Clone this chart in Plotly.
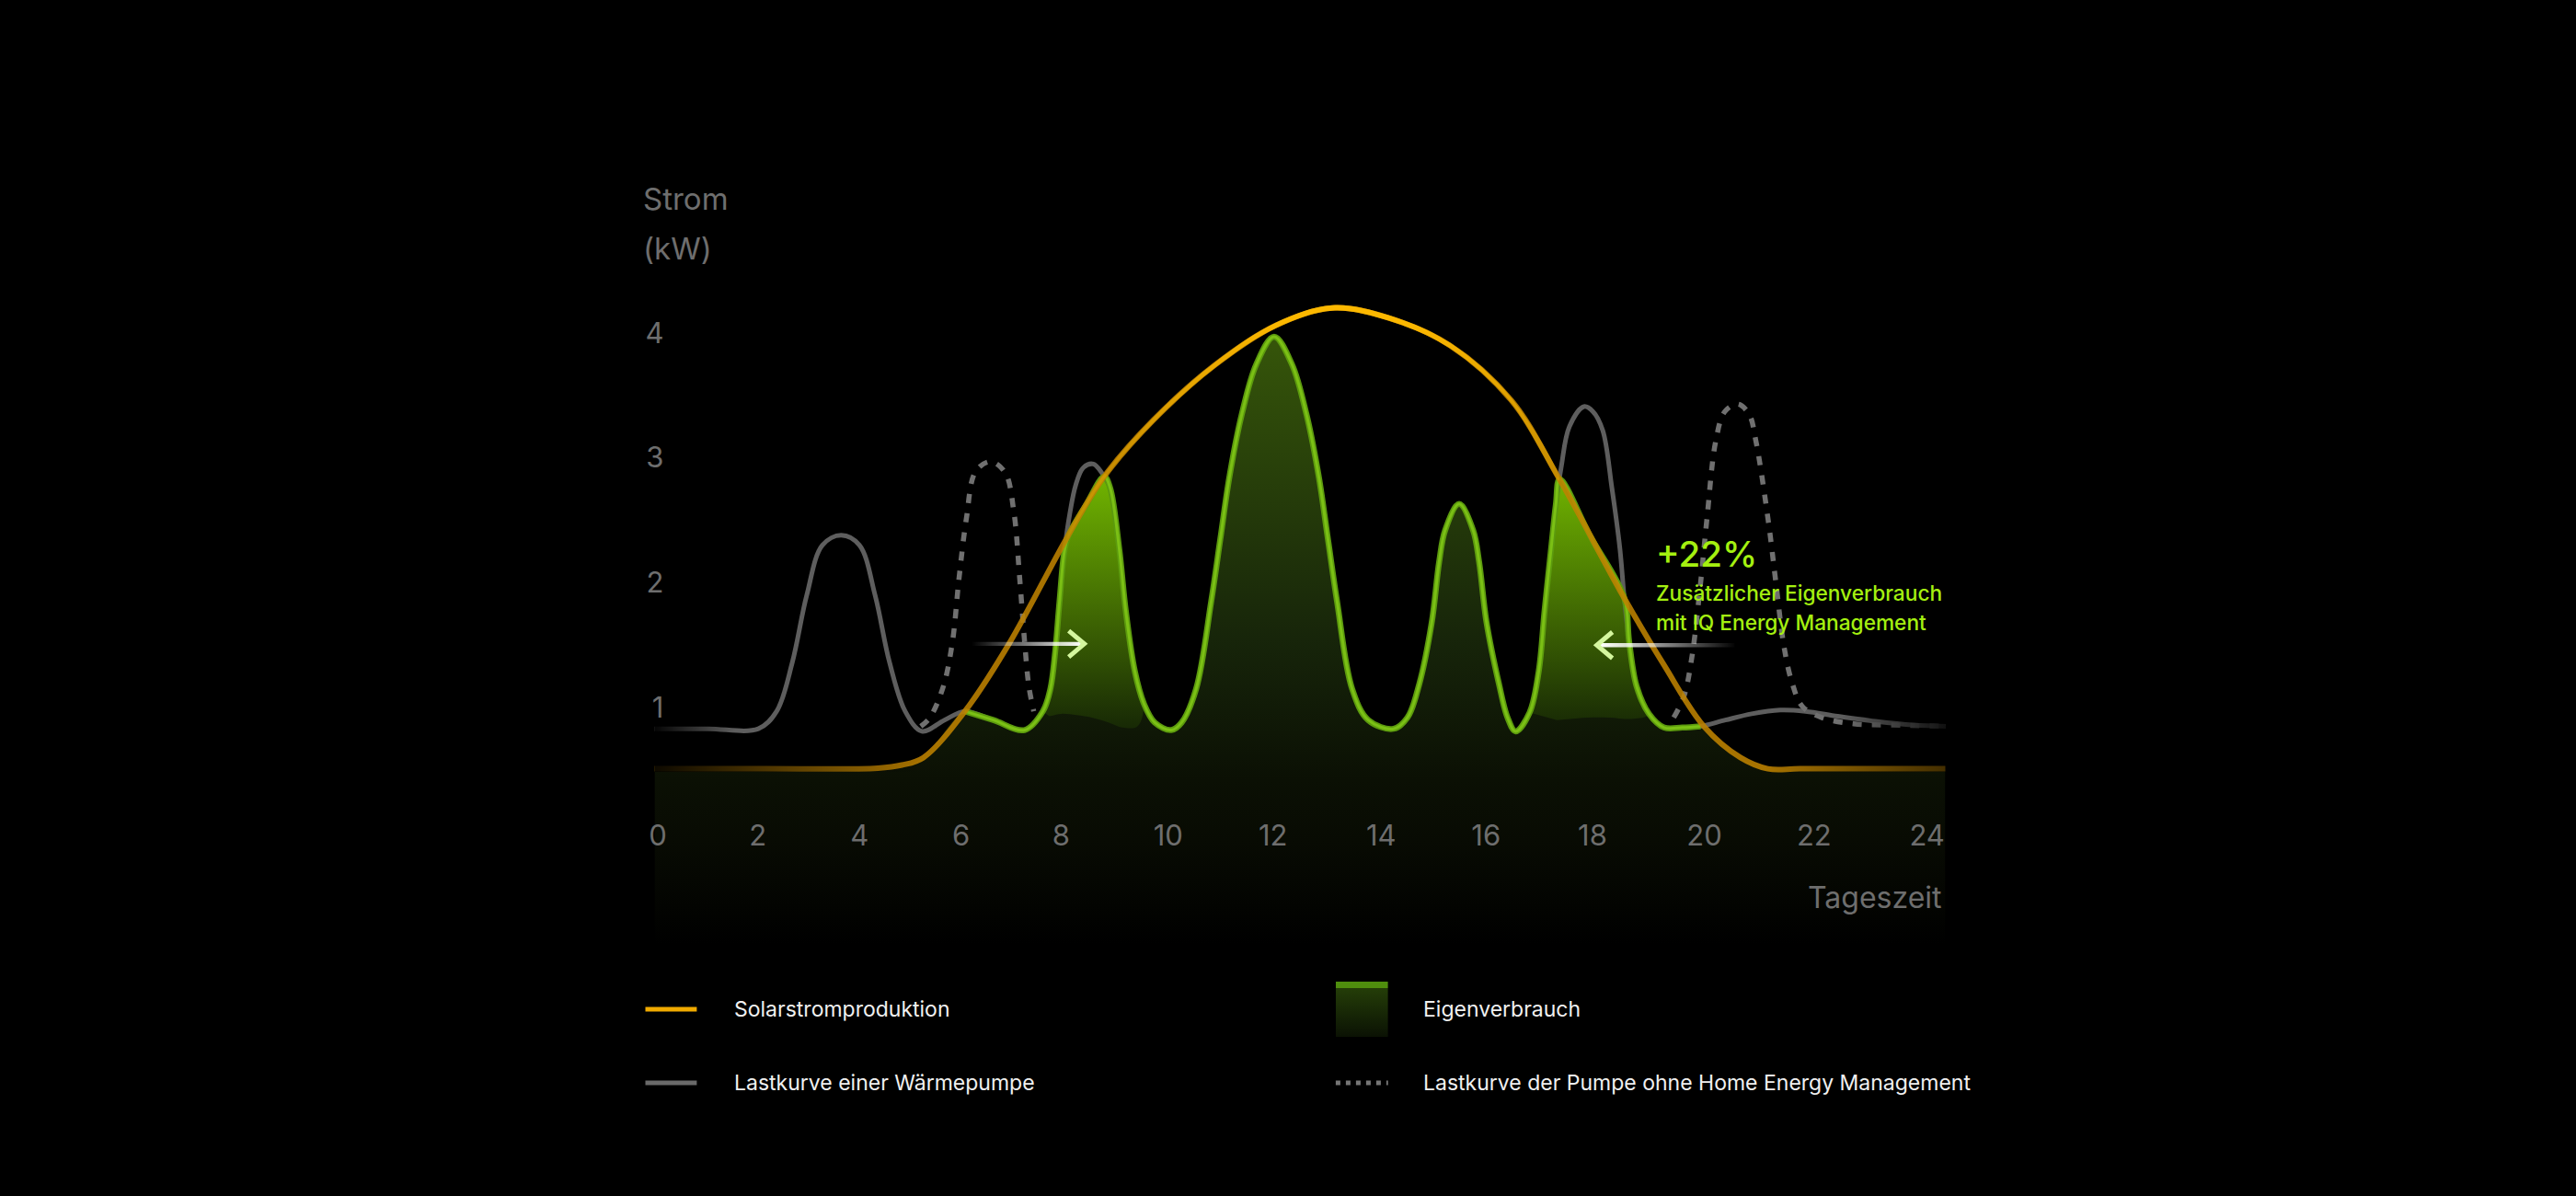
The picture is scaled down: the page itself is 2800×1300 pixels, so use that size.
import plotly.graph_objects as go

W, H = 2800, 1300

# ---- values (hours on a 0-24 axis, power in kW) ----
tick_pos = [0.06, 1.92, 3.81, 5.70, 7.56, 9.55, 11.50, 13.51, 15.46, 17.44, 19.52, 21.56, 23.66]
tick_text = ["0", "2", "4", "6", "8", "10", "12", "14", "16", "18", "20", "22", "24"]
kw_ticks = [1, 2, 3, 4]

# Solarstromproduktion
solar_x = [0, 2.0, 4.15, 4.6, 5.0, 5.77, 6.59, 7.68, 8.36, 9.27, 10.41, 11.55, 12.6, 13.65,
           14.79, 15.93, 16.81, 18.0, 18.77, 19.51, 20.19, 20.7, 21.3, 24]
solar_y = [0.51, 0.51, 0.515, 0.54, 0.60, 0.97, 1.51, 2.37, 2.85, 3.30, 3.74, 4.06, 4.20, 4.12,
           3.90, 3.46, 2.84, 1.90, 1.34, 0.85, 0.60, 0.51, 0.51, 0.51]

# Lastkurve einer Waermepumpe (with energy management)
load_x = [0, 1.0, 1.93, 2.27, 2.56, 2.83, 3.12, 3.47, 3.81, 4.10, 4.37, 4.66, 4.97, 5.39, 5.77,
          6.3, 6.88, 7.22, 7.36, 7.45, 7.53, 7.62, 7.72, 7.83, 7.97, 8.16, 8.36, 8.47, 8.64, 8.76,
          8.93, 9.10, 9.30, 9.61, 9.80, 10.07, 10.35, 10.52, 10.69, 10.92, 11.19, 11.52, 11.85,
          12.12, 12.35, 12.52, 12.69, 12.97, 13.27, 13.74, 14.00, 14.22, 14.45, 14.59, 14.70,
          14.96, 15.22, 15.33, 15.47, 15.70, 15.86, 16.01, 16.27, 16.44, 16.55, 16.67, 16.76,
          16.86, 17.01, 17.28, 17.45, 17.63, 17.80, 17.95, 18.03, 18.12, 18.26, 18.49, 18.77,
          19.11, 19.45, 19.91, 20.40, 20.93, 21.40, 22.00, 22.70, 23.40, 24.0]
load_y = [0.83, 0.83, 0.83, 0.97, 1.36, 1.90, 2.30, 2.38, 2.30, 1.90, 1.36, 0.97, 0.81, 0.90, 0.97,
          0.90, 0.82, 0.97, 1.15, 1.45, 1.85, 2.25, 2.55, 2.78, 2.92, 2.95, 2.85, 2.76, 2.27, 1.78,
          1.29, 1.03, 0.88, 0.82, 0.88, 1.15, 1.85, 2.35, 2.85, 3.35, 3.75, 3.97, 3.75,
          3.35, 2.85, 2.35, 1.85, 1.15, 0.90, 0.83, 0.92, 1.19, 1.68, 2.17, 2.42,
          2.63, 2.42, 2.17, 1.68, 1.19, 0.92, 0.81, 0.96, 1.29, 1.78, 2.27, 2.63,
          2.93, 3.25, 3.41, 3.37, 3.22, 2.76, 2.27, 1.88, 1.53, 1.17, 0.95, 0.84,
          0.84, 0.85, 0.90, 0.95, 0.98, 0.97, 0.93, 0.89, 0.86, 0.85]

# Eigenverbrauch (load covered by solar)
eigen_x = [5.77, 6.3, 6.88, 7.22, 7.36, 7.45, 7.53, 7.62, 7.70, 8.02, 8.36, 8.47, 8.64, 8.76, 8.93,
           9.10, 9.30, 9.61, 9.80, 10.07, 10.35, 10.52, 10.69, 10.92, 11.19, 11.52, 11.85, 12.12,
           12.35, 12.52, 12.69, 12.97, 13.27, 13.74, 14.00, 14.22, 14.45, 14.59, 14.70, 14.96,
           15.22, 15.33, 15.47, 15.70, 15.86, 16.01, 16.27, 16.44, 16.55, 16.67, 16.76, 16.83,
           17.40, 18.03, 18.12, 18.26, 18.49, 18.77, 19.11, 19.45]
eigen_y = [0.97, 0.90, 0.82, 0.97, 1.15, 1.45, 1.85, 2.25, 2.38, 2.62, 2.85, 2.76, 2.27, 1.78, 1.29,
           1.03, 0.88, 0.82, 0.88, 1.15, 1.85, 2.35, 2.85, 3.35, 3.75, 3.97, 3.75, 3.35,
           2.85, 2.35, 1.85, 1.15, 0.90, 0.83, 0.92, 1.19, 1.68, 2.17, 2.42, 2.63,
           2.42, 2.17, 1.68, 1.19, 0.92, 0.81, 0.96, 1.29, 1.78, 2.27, 2.63, 2.83,
           2.37, 1.88, 1.53, 1.17, 0.95, 0.84, 0.84, 0.85]

# base of the extra self consumption (below the shifted peaks)
shadow_am_x = [7.22, 7.34, 7.56, 7.85, 8.13, 8.45, 8.70, 8.98, 9.10]
shadow_am_y = [0.97, 0.93, 0.95, 0.94, 0.92, 0.88, 0.84, 0.85, 1.03]
shadow_pm_x = [16.27, 16.78, 17.35, 17.75, 18.2, 18.49]
shadow_pm_y = [0.96, 0.90, 0.92, 0.92, 0.91, 0.95]

# Lastkurve der Pumpe ohne Home Energy Management
old_x = [4.95, 5.12, 5.37, 5.54, 5.66, 5.80, 5.97, 6.25, 6.52, 6.68, 6.79, 6.88, 6.96, 7.05, None,
         18.95, 19.14, 19.29, 19.45, 19.57, 19.73, 19.90, 20.14, 20.35, 20.48, 20.71, 20.85, 21.00,
         21.15, 21.34, 21.70, 22.30, 23.00, 24.00]
old_y = [0.85, 0.92, 1.17, 1.53, 2.03, 2.52, 2.89, 2.97, 2.88, 2.57, 2.03, 1.53, 1.17, 0.97, None,
         0.92, 1.09, 1.41, 2.00, 2.52, 3.13, 3.37, 3.43, 3.35, 3.13, 2.49, 2.00, 1.49,
         1.20, 1.01, 0.92, 0.87, 0.86, 0.85]

legend_labels = ["Solarstromproduktion", "Eigenverbrauch",
                 "Lastkurve einer Wärmepumpe", "Lastkurve der Pumpe ohne Home Energy Management"]

# ---- styling ----
FONT = "Inter, Noto Sans, sans-serif"
GREY_TXT = "#6e6e6e"
LIME = "#a4f010"
FLOOR = -0.9
BAND = 0.022


def px(x):
    return x / W


def py(y):
    return 1 - y / H


def strip(**kw):
    return go.Scatter(mode="lines", hoverinfo="skip", showlegend=False, **kw)


fig = go.Figure()

# dark self consumption area (solar at night, load during the day)
night_l = [i for i, x in enumerate(solar_x) if x < eigen_x[0]]
night_r = [i for i, x in enumerate(solar_x) if x > eigen_x[-1]]
top_x = [solar_x[i] for i in night_l] + eigen_x + [solar_x[i] for i in night_r]
top_y = [solar_y[i] for i in night_l] + eigen_y + [solar_y[i] for i in night_r]
fig.add_trace(strip(x=[0, 24], y=[FLOOR, FLOOR], line=dict(width=0)))
fig.add_trace(strip(x=top_x, y=top_y, line=dict(width=0, shape="spline"), fill="tonexty",
                    fillgradient=dict(type="vertical", start=FLOOR, stop=4.0,
                                      colorscale=[[0, "#000000"], [0.17, "#080b03"],
                                                  [0.27, "#0b1004"], [0.5, "#17250a"],
                                                  [1, "#36560a"]])))

# bright extra self consumption (+22%)
for sx, sy in [(shadow_am_x, shadow_am_y), (shadow_pm_x, shadow_pm_y)]:
    seg = [(x, y) for x, y in zip(eigen_x, eigen_y) if sx[0] <= x <= sx[-1]]
    poly_x = [p[0] for p in seg] + sx[-2:0:-1]
    poly_y = [p[1] for p in seg] + sy[-2:0:-1]
    fig.add_trace(strip(x=poly_x, y=poly_y, line=dict(width=0, shape="spline"), fill="toself",
                        fillgradient=dict(type="vertical", start=0.85, stop=2.9,
                                          colorscale=[[0, "#182a05"], [1, "#73b800"]])))

# load curves
fig.add_trace(strip(x=load_x, y=load_y, line=dict(color="#5e5e5e", width=5, shape="spline")))
fig.add_trace(strip(x=old_x, y=old_y, line=dict(color="#707070", width=5.5, shape="spline",
                                                dash="10px,11px")))
fig.add_trace(strip(x=eigen_x, y=eigen_y, line=dict(color="#5c9a0e", width=6.5, shape="spline")))
fig.add_trace(strip(x=eigen_x, y=eigen_y, line=dict(color="#7bc015", width=3, shape="spline")))

# solar line: dim base plus a brighter band towards the top
fig.add_trace(strip(x=solar_x, y=solar_y,
                    line=dict(color="rgba(190,130,0,0.88)", width=6, shape="spline")))
hi = [i for i, y in enumerate(solar_y) if y >= 2.1]
bx = [solar_x[i] for i in hi]
by = [solar_y[i] for i in hi]
fig.add_trace(strip(x=bx + bx[::-1], y=[y + BAND for y in by] + [y - BAND for y in by[::-1]],
                    line=dict(width=0, shape="spline"), fill="toself",
                    fillgradient=dict(type="vertical", start=2.2, stop=4.1,
                                      colorscale=[[0, "rgba(252,184,0,0)"],
                                                  [1, "rgba(252,184,0,1)"]])))


# fading ends of the lines
def fade(x0, x1, y0, y1, a0, a1, rgb="0,0,0"):
    fig.add_trace(strip(x=[x0, x1, x1, x0, x0], y=[y0, y0, y1, y1, y0], line=dict(width=0),
                        fill="toself",
                        fillgradient=dict(type="horizontal", start=x0, stop=x1,
                                          colorscale=[[0, f"rgba({rgb},{a0})"],
                                                      [1, f"rgba({rgb},{a1})"]])))


fade(0, 5.0, 0.485, 0.66, 0.92, 0.0)
fade(0, 1.5, 0.74, 0.93, 0.95, 0.0)
fade(22.0, 24, 0.74, 1.02, 0.0, 0.85)
fade(20.6, 24, 0.485, 0.6, 0.0, 0.6)

# arrows (shift of the load into the sunny hours)
fade(5.88, 7.97, 1.494, 1.526, 0.0, 1.0, rgb="255,255,255")
fade(17.55, 20.08, 1.484, 1.516, 1.0, 0.0, rgb="255,255,255")
for tip, y, d in [(7.99, 1.51, 0.29), (17.52, 1.50, -0.29)]:
    fig.add_shape(type="path", xref="x", yref="y",
                  path=f"M {tip - d},{y + 0.105} L {tip},{y} L {tip - d},{y - 0.105}",
                  line=dict(color="#d4f69e", width=5))

# legend swatch for Eigenverbrauch (own tiny axes)
fig.add_trace(go.Scatter(x=[0, 1, 1, 0, 0], y=[0, 0, 1, 1, 0], xaxis="x2", yaxis="y2",
                         mode="lines", line=dict(width=0), fill="toself", hoverinfo="skip",
                         showlegend=False,
                         fillgradient=dict(type="vertical", start=0, stop=1,
                                           colorscale=[[0, "#0b1204"], [0.88, "#243d08"],
                                                       [0.885, "#4f8e0d"], [1, "#4f8e0d"]])))

# legend lines
for x0, x1, y, col, dash in [(697, 753, 1097, "#f0aa00", None), (697, 753, 1177, "#6a6a6a", None),
                             (1449, 1506, 1177, "#767676", "5px,6px")]:
    fig.add_shape(type="line", xref="paper", yref="paper", x0=px(x0), x1=px(x1),
                  y0=py(y), y1=py(y), line=dict(color=col, width=5, dash=dash))

for text, x, y in zip(legend_labels, [792, 1542, 792, 1542], [1097, 1097, 1177, 1177]):
    fig.add_annotation(text=text, x=px(x), y=py(y), xref="paper", yref="paper",
                       xanchor="left", yanchor="middle", showarrow=False,
                       font=dict(size=23, color="#f0f0f0", family=FONT))

# axis titles
for text, y in [("Strom", 216), ("(kW)", 270)]:
    fig.add_annotation(text=text, x=px(692), y=py(y), xref="paper", yref="paper",
                       xanchor="left", yanchor="middle", showarrow=False,
                       font=dict(size=33, color=GREY_TXT, family=FONT))
fig.add_annotation(text="Tageszeit", x=px(2112), y=py(975), xref="paper", yref="paper",
                   xanchor="right", yanchor="middle", showarrow=False,
                   font=dict(size=32, color=GREY_TXT, family=FONT))

# highlight text
fig.add_annotation(text="+22%", x=18.58, y=2.23, xanchor="left", yanchor="middle",
                   showarrow=False, font=dict(size=38.5, color=LIME, family=FONT, weight=500))
for text, y in [("Zusätzlicher Eigenverbrauch", 1.915), ("mit IQ Energy Management", 1.68)]:
    fig.add_annotation(text=text, x=18.58, y=y, xanchor="left", yanchor="middle",
                       showarrow=False, font=dict(size=22.7, color=LIME, family=FONT, weight=500))

fig.update_layout(
    width=W, height=H, margin=dict(l=0, r=0, t=0, b=0),
    paper_bgcolor="#000000", plot_bgcolor="rgba(0,0,0,0)", showlegend=False,
    font=dict(family=FONT, color=GREY_TXT),
    xaxis=dict(domain=[px(707), px(2113)], range=[0, 24], tickvals=tick_pos, ticktext=tick_text,
               anchor="free", position=py(887), showgrid=False, zeroline=False, showline=False,
               ticks="", tickfont=dict(size=31, color=GREY_TXT)),
    yaxis=dict(domain=[py(1027), py(294)], range=[FLOOR, 4.5], tickvals=kw_ticks,
               anchor="free", position=px(717), showgrid=False, zeroline=False, showline=False,
               ticks="", tickfont=dict(size=31, color=GREY_TXT)),
    xaxis2=dict(domain=[px(1449), px(1506)], range=[0, 1], visible=False, anchor="y2"),
    yaxis2=dict(domain=[py(1127), py(1067)], range=[0, 1], visible=False, anchor="x2"),
)

fig.write_html("out.html", config={"displayModeBar": False},
               post_script="document.body.style.margin='0';"
                           "document.body.style.background='#000';")
